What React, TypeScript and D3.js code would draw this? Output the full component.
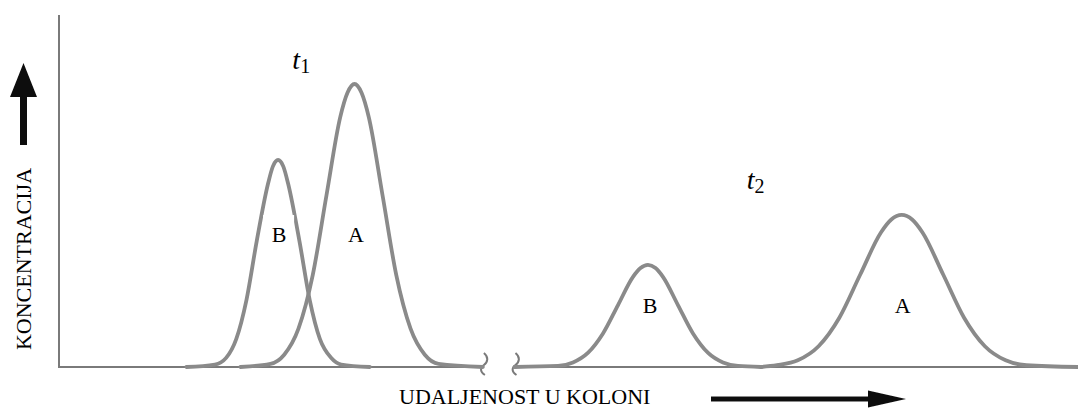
import React from 'react';
import * as d3 from 'd3';

// ---- data (x: distance along column, y: concentration; arbitrary units 0–100) ----
const B1_X = [12.5, 15.3, 16.4, 17.4, 18.4, 19.4, 20.5, 20.99, 21.5, 22.01, 22.5, 23.6, 24.6, 25.6, 26.7, 27.7, 30.5];
const B1_Y = [0, 0.7, 2.6, 8.0, 19.1, 35.7, 51.9, 57.0, 58.8, 57.0, 51.9, 35.7, 19.1, 8.0, 2.6, 0.7, 0];

const A1_X = [17.8, 20.75, 22.1, 23.5, 24.9, 26.25, 27.6, 28.31, 29.0, 29.69, 30.4, 31.75, 33.1, 34.5, 35.9, 37.25, 41.6];
const A1_Y = [0, 0.9, 3.5, 10.9, 26.1, 48.8, 71.0, 77.9, 80.4, 77.9, 71.0, 48.8, 26.1, 10.9, 3.5, 0.9, 0];

const B2_X = [44.7, 48.97, 50.44, 51.9, 53.4, 54.86, 56.33, 57.07, 57.8, 58.54, 59.27, 60.74, 62.2, 63.7, 65.16, 66.63, 68.9];
const B2_Y = [0, 0.3, 1.3, 4.0, 9.6, 17.6, 25.6, 28.1, 29.0, 28.1, 25.6, 17.6, 9.6, 4.0, 1.3, 0.3, 0];

const A2_X = [68.9, 70.46, 72.5, 74.54, 76.58, 78.62, 80.66, 81.68, 82.7, 83.72, 84.74, 86.78, 88.82, 90.86, 92.9, 94.94, 100];
const A2_Y = [0, 0.5, 1.9, 5.9, 14.0, 26.2, 38.2, 41.9, 43.2, 41.9, 38.2, 26.2, 14.0, 5.9, 1.9, 0.5, 0];

const PEAK_NAMES = ['B', 'A', 'B', 'A'];
const PEAK_CENTERS = [21.6, 29.15, 58.0, 82.8];
const TIME_SUBSCRIPTS = ['1', '2'];
const AXIS_BREAK = [41.6, 44.7];
const Y_LABEL = 'KONCENTRACIJA';
const X_LABEL = 'UDALJENOST U KOLONI';

const W = 1078;
const H = 408;

export default function App() {
  const x = d3.scaleLinear().domain([0, 100]).range([59, 1078]);
  const y = d3.scaleLinear().domain([0, 100]).range([367, 15]);
  const line = d3
    .line<[number, number]>()
    .x((d) => x(d[0]))
    .y((d) => y(d[1]))
    .curve(d3.curveMonotoneX);

  const series: [number[], number[]][] = [
    [B1_X, B1_Y],
    [A1_X, A1_Y],
    [B2_X, B2_Y],
    [A2_X, A2_Y],
  ];

  const labelY = [35.5, 35.5, 15.3, 15.3];
  const serif = '"Liberation Serif", "DejaVu Serif", "Times New Roman", serif';
  const curveColor = '#8a8a8a';
  const axisColor = '#7a7a7a';

  const bx0 = x(AXIS_BREAK[0]);
  const bx1 = x(AXIS_BREAK[1]);
  const base = y(0);
  const squiggle = (cx: number) =>
    `M${cx + 1},${base - 14} C${cx + 6},${base - 10} ${cx + 5},${base - 5} ${cx + 1},${base - 2} C${cx - 3},${base + 1} ${cx - 3},${base + 5} ${cx + 2},${base + 8}`;

  const timePos = [
    { x: 22.9, y: 84.7 },
    { x: 67.5, y: 50.6 },
  ];

  return (
    <svg
      width={W}
      height={H}
      viewBox={`0 0 ${W} ${H}`}
      style={{ position: 'absolute', left: 0, top: 0, background: '#fff' }}
    >
      <defs>
        <filter id="soft" x="-5%" y="-5%" width="110%" height="110%">
          <feGaussianBlur stdDeviation="0.6" />
        </filter>
      </defs>
      <rect width={W} height={H} fill="#fff" />

      {/* axes */}
      <g filter="url(#soft)" stroke={axisColor} strokeWidth={2} fill="none">
        <line x1={x(0)} x2={x(0)} y1={y(100)} y2={base} />
        <line x1={x(0) - 1} x2={bx0} y1={base} y2={base} />
        <line x1={bx1} x2={x(100)} y1={base} y2={base} />
        <path d={squiggle(bx0)} strokeWidth={2} />
        <path d={squiggle(bx1)} strokeWidth={2} />
      </g>

      {/* peaks */}
      <g filter="url(#soft)" stroke={curveColor} strokeWidth={3.8} fill="none" strokeLinecap="round">
        {series.map(([xs, ys], i) => (
          <path key={i} d={line(xs.map((v, j) => [v, ys[j]]) as [number, number][]) || ''} />
        ))}
      </g>

      {/* peak labels */}
      {PEAK_NAMES.map((name, i) => {
        const cx = x(PEAK_CENTERS[i]);
        const by = y(labelY[i]);
        return (
          <g key={i}>
            {name === 'B' && <rect x={cx - 16} y={by - 27} width={31} height={35} fill="#fff" />}
            <text x={cx} y={by} textAnchor="middle" fontFamily={serif} fontSize={22} fill="#000">
              {name}
            </text>
          </g>
        );
      })}

      {/* time labels */}
      {TIME_SUBSCRIPTS.map((s, i) => (
        <text key={i} x={x(timePos[i].x)} y={y(timePos[i].y)} fontFamily={serif} fill="#000">
          <tspan fontStyle="italic" fontSize={28}>t</tspan>
          <tspan fontSize={20} dy={4}>{s}</tspan>
        </text>
      ))}

      {/* y axis label and arrow */}
      <text
        transform={`translate(31, 259) rotate(-90)`}
        textAnchor="middle"
        fontFamily={serif}
        fontSize={22}
        fill="#000"
      >
        {Y_LABEL}
      </text>
      <path
        d="M20,145 L20,97 L10,97 L23.5,63 L37,97 L27,97 L27,145 Z"
        fill="#111"
        filter="url(#soft)"
      />

      {/* x axis label and arrow */}
      <text x={399} y={404} fontFamily={serif} fontSize={22} fill="#000">
        {X_LABEL}
      </text>
      <path
        d="M711,396.5 L868,396.5 L868,390.5 L906,399 L868,407.5 L868,401.5 L711,401.5 Z"
        fill="#111"
        filter="url(#soft)"
      />
    </svg>
  );
}
